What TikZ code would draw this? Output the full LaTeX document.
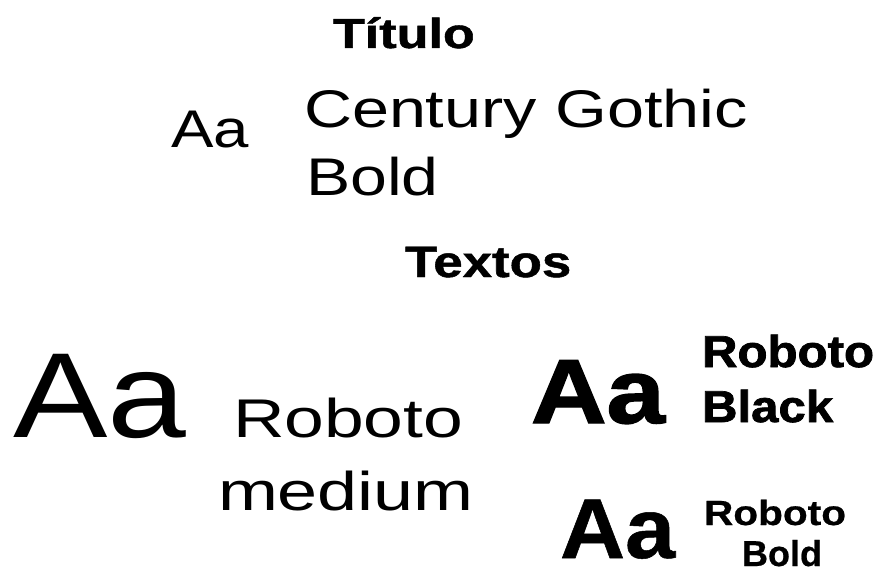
\documentclass[tikz,border=0pt]{standalone}
\usepackage{fontspec}
\setmainfont{Liberation Sans}
\newfontfamily\bldfont[FakeBold=0.6]{Liberation Sans Bold}
\newfontfamily\hdfont[FakeBold=1.0]{Liberation Sans Bold}
\newfontfamily\blkfont[FakeBold=1.6]{Liberation Sans Bold}
\newcommand{\typesample}[3]{\fontsize{#1}{#1}\selectfont\scalebox{#2}[1]{#3}}
\tikzset{txt/.style={inner sep=0pt, outer sep=0pt, anchor=base west, text=black, text depth=0pt},
         txtc/.style={inner sep=0pt, outer sep=0pt, anchor=base, text=black, text depth=0pt}}
\begin{document}
\begin{tikzpicture}[x=1pt,y=-1pt]
\path[use as bounding box, fill=white] (0,0) rectangle (880,572);
% title section
\node[txt] (titulo) at (333,48) {\hdfont\typesample{42}{1.24}{Título}};
\node[txt] (aa1) at (171,148) {\typesample{53}{1.2}{Aa}};
\node[txt] (cg1) at (304,128) {\typesample{53}{1.255}{Century Gothic}};
\node[txt] (cg2) at (306,195) {\typesample{53}{1.25}{Bold}};
% texts section
\node[txt] (textos) at (405,277) {\hdfont\typesample{44}{1.2}{Textos}};
\node[txt] (aa2) at (13,437) {\typesample{121}{1.17}{Aa}};
\node[txt] (rm1) at (233,437) {\typesample{54.5}{1.31}{Roboto}};
\node[txt] (rm2) at (218,510) {\typesample{54.5}{1.32}{medium}};
\node[txt] (aa3) at (531,423) {\blkfont\typesample{91}{1.15}{Aa}};
\node[txt] (rb1) at (702,367) {\blkfont\typesample{44.7}{1.1}{Roboto}};
\node[txt] (rb2) at (702,422) {\blkfont\typesample{44.7}{1.1}{Black}};
\node[txt] (aa4) at (560,558) {\bldfont\typesample{85}{1.06}{Aa}};
\node[txt] (rbo1) at (704,525) {\bldfont\typesample{35}{1.16}{Roboto}};
\node[txtc] (rbo2) at (782,566) {\bldfont\typesample{36}{1.0}{Bold}};
\end{tikzpicture}
\end{document}
